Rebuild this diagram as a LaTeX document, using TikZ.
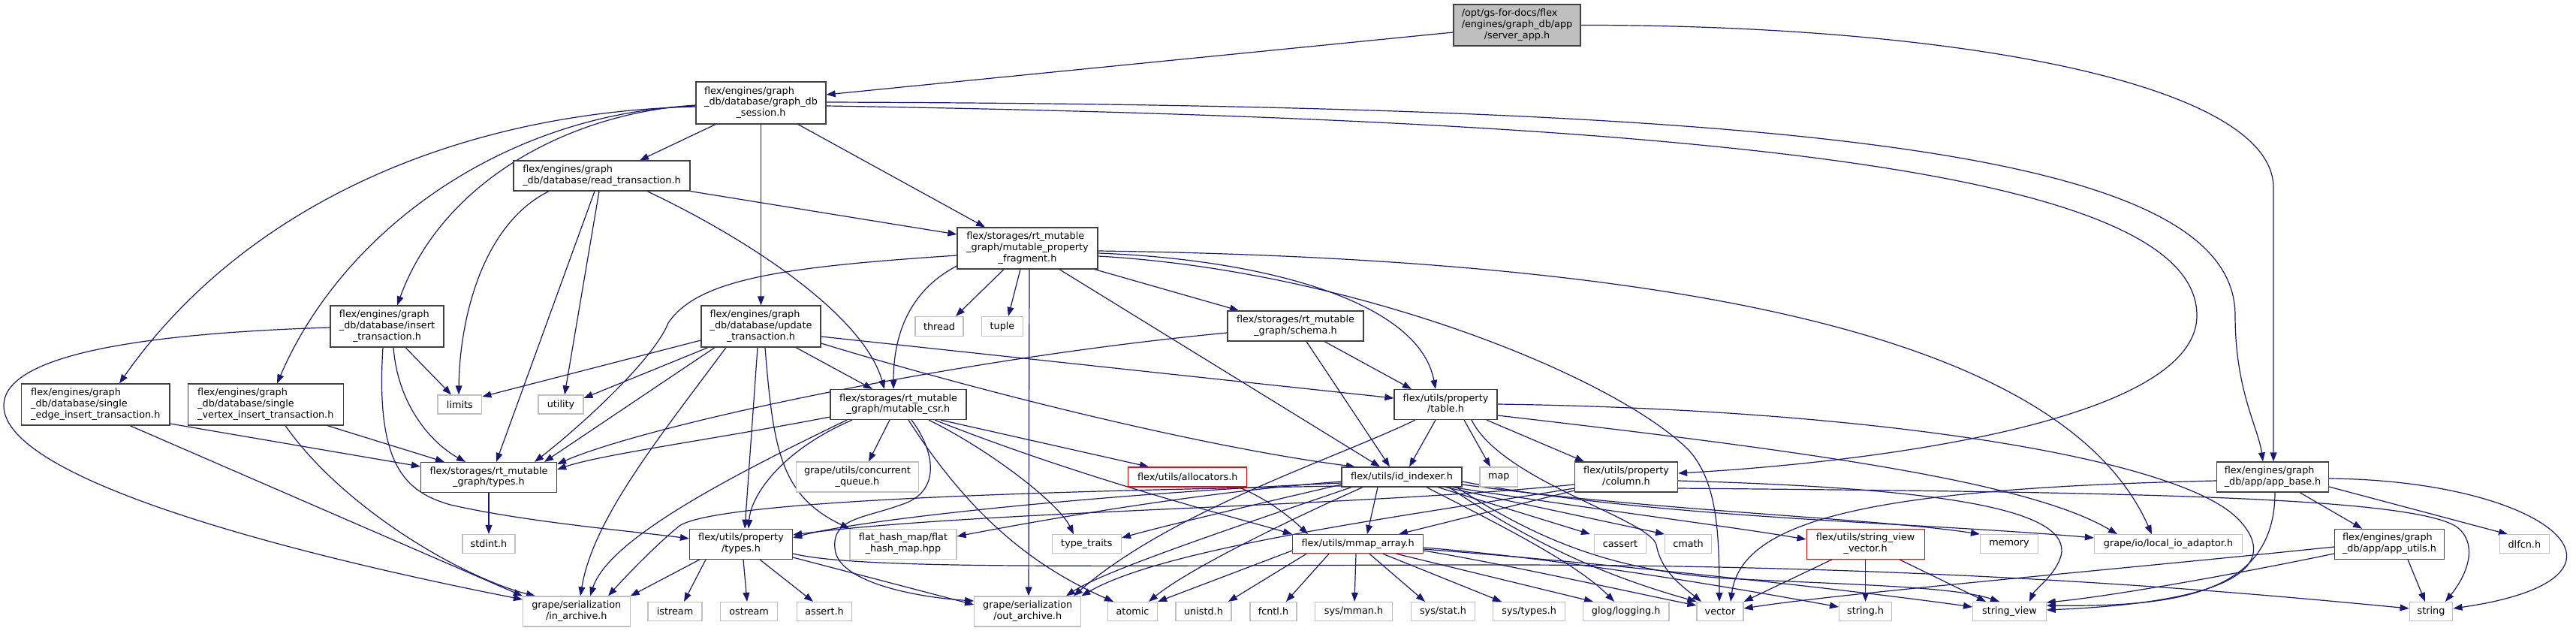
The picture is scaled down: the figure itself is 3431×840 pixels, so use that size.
\documentclass[tikz,border=0pt]{standalone}
\usepackage{fontspec}
\setmainfont{DejaVu Sans}
\usetikzlibrary{arrows.meta}
\pgfdeclarelayer{bg}
\pgfsetlayers{bg,main}
\definecolor{edgec}{HTML}{191970}
\definecolor{bordc}{HTML}{404040}
\definecolor{greyc}{HTML}{BFBFBF}
\newcommand{\lbfont}{\fontsize{6.4pt}{7.35pt}\selectfont}
\newcommand{\lblii}[2]{\begin{tabular}{@{}l@{}}#1\\\multicolumn{1}{@{}c@{}}{#2}\end{tabular}}
\newcommand{\lbliii}[3]{\begin{tabular}{@{}l@{}}#1\\#2\\\multicolumn{1}{@{}c@{}}{#3}\end{tabular}}
\begin{document}
\begin{tikzpicture}[x=0.5pt,y=-0.5pt,
 box/.style={draw=bordc, fill=white, line width=0.6pt, inner sep=0pt, font=\lbfont, text=black},
 extbox/.style={box, draw=greyc},
 redbox/.style={box, draw=red},
 rootbox/.style={box, fill=greyc},
 sz/.style 2 args={minimum width=#1*0.5pt, minimum height=#2*0.5pt},
 dep/.style={draw=edgec, line width=0.6pt, -{Triangle[length=6pt,width=4.4pt]}}]
\useasboundingbox (0,0) rectangle (3431,840);
% nodes
\node[rootbox, sz={169}{55}] (root) at (2020.5,33.5) {\lbliii{/opt/gs-for-docs/flex}{/engines/graph\_db/app}{/server\_app.h}};
\node[box, sz={173}{56}] (session) at (1013.5,137) {\lbliii{flex/engines/graph}{\_db/database/graph\_db}{\_session.h}};
\node[box, sz={235}{40}] (read) at (801.5,234) {\lblii{flex/engines/graph}{\_db/database/read\_transaction.h}};
\node[box, sz={187}{55}] (mpf) at (1368.5,330.5) {\lbliii{flex/storages/rt\_mutable}{\_graph/mutable\_property}{\_fragment.h}};
\node[box, sz={151}{55}] (insert) at (515.5,434.5) {\lbliii{flex/engines/graph}{\_db/database/insert}{\_transaction.h}};
\node[box, sz={159}{55}] (update) at (1013.5,434.5) {\lbliii{flex/engines/graph}{\_db/database/update}{\_transaction.h}};
\node[box, sz={181}{40}] (schema) at (1725.5,434) {\lblii{flex/storages/rt\_mutable}{\_graph/schema.h}};
\node[extbox, sz={64}{26}] (thread) at (1251,434.5) {thread};
\node[extbox, sz={55}{26}] (tuple) at (1335,434.5) {tuple};
\node[box, sz={197.5}{55}] (sedge) at (127.3,538.5) {\lbliii{flex/engines/graph}{\_db/database/single}{\_edge\_insert\_transaction.h}};
\node[box, sz={207}{55}] (svert) at (353.8,538.5) {\lbliii{flex/engines/graph}{\_db/database/single}{\_vertex\_insert\_transaction.h}};
\node[extbox, sz={58.7}{25}] (limits) at (612.4,538.5) {limits};
\node[extbox, sz={60}{25}] (utility) at (747,538.5) {utility};
\node[box, sz={181}{40}] (csr) at (1196.5,538.5) {\lblii{flex/storages/rt\_mutable}{\_graph/mutable\_csr.h}};
\node[box, sz={137}{40}] (table) at (1925.5,538.5) {\lblii{flex/utils/property}{/table.h}};
\node[box, sz={181}{40}] (rttypes) at (651,635.5) {\lblii{flex/storages/rt\_mutable}{\_graph/types.h}};
\node[extbox, sz={163.6}{40}] (cqueue) at (1142,635) {\lblii{grape/utils/concurrent}{\_queue.h}};
\node[redbox, sz={158}{26}] (alloc) at (1581.8,635) {flex/utils/allocators.h};
\node[box, sz={160}{26}] (idx) at (1867,635) {flex/utils/id\_indexer.h};
\node[extbox, sz={50.5}{26}] (map) at (1996.3,635) {map};
\node[box, sz={137}{40}] (column) at (2166,635) {\lblii{flex/utils/property}{/column.h}};
\node[box, sz={149}{40}] (appbase) at (3027,635) {\lblii{flex/engines/graph}{\_db/app/app\_base.h}};
\node[extbox, sz={70}{25}] (stdint) at (651,724) {stdint.h};
\node[box, sz={137}{40}] (ptypes) at (987,724.3) {\lblii{flex/utils/property}{/types.h}};
\node[extbox, sz={142}{40}] (fhm) at (1203,724.3) {\lblii{flat\_hash\_map/flat}{\_hash\_map.hpp}};
\node[extbox, sz={92}{25}] (ttraits) at (1447.4,724.2) {type\_traits};
\node[redbox, sz={174}{25}] (mmap) at (1808.6,724.2) {flex/utils/mmap\_array.h};
\node[extbox, sz={69}{25}] (cassert) at (2158,724.2) {cassert};
\node[extbox, sz={62}{25}] (cmath) at (2248.5,724.2) {cmath};
\node[redbox, sz={157}{40}] (svv) at (2484.6,724.3) {\lblii{flex/utils/string\_view}{\_vector.h}};
\node[extbox, sz={77}{25}] (memory) at (2676,724.2) {memory};
\node[extbox, sz={197}{25}] (localio) at (2888,724.2) {grape/io/local\_io\_adaptor.h};
\node[box, sz={146}{40}] (apputils) at (3182.5,724.3) {\lblii{flex/engines/graph}{\_db/app/app\_utils.h}};
\node[extbox, sz={66}{25}] (dlfcn) at (3362.3,724.3) {dlfcn.h};
\node[extbox, sz={142.6}{40}] (inarch) at (767.8,814) {\lblii{grape/serialization}{/in\_archive.h}};
\node[extbox, sz={72}{25}] (istream) at (899,814) {istream};
\node[extbox, sz={75.7}{25}] (ostream) at (997.6,814) {ostream};
\node[extbox, sz={73.5}{25}] (asserth) at (1098,814) {assert.h};
\node[extbox, sz={142}{40}] (outarch) at (1368.7,814) {\lblii{grape/serialization}{/out\_archive.h}};
\node[extbox, sz={66}{25}] (atomic) at (1508.5,814) {atomic};
\node[extbox, sz={74}{25}] (unistd) at (1603,814) {unistd.h};
\node[extbox, sz={62}{25}] (fcntl) at (1696,814) {fcntl.h};
\node[extbox, sz={102.6}{25}] (sysmman) at (1803,814) {sys/mman.h};
\node[extbox, sz={85}{25}] (sysstat) at (1922,814) {sys/stat.h};
\node[extbox, sz={96}{25}] (systypes) at (2036.7,814) {sys/types.h};
\node[extbox, sz={114.6}{25}] (glog) at (2165.7,814) {glog/logging.h};
\node[extbox, sz={62}{25}] (vector) at (2291,814) {vector};
\node[extbox, sz={70}{25}] (stringh) at (2484.6,814) {string.h};
\node[extbox, sz={97.6}{25}] (strview) at (2676.4,814) {string\_view};
\node[extbox, sz={57.7}{25}] (string) at (3238,814) {string};
\begin{pgfonlayer}{bg}
\fill[white] (0,0) rectangle (3431,840);
% root
\draw[dep] (root.west |- 0,43) -- (session.east |- 0,126);
\draw[dep] (root.east) .. controls (2600,33) and (3028,110) .. (3028,250) -- (appbase.north -| 3028,0);
% session
\draw[dep] (session.south -| 953,0) -- (read.north -| 852,0);
\draw[dep] (session.south -| 1063,0) -- (mpf.north -| 1312,0);
\draw[dep] (session.south) -- (update.north);
\draw[dep] (session.west |- 0,140) .. controls (760,150) and (590,240) .. (insert.north -| 529,0);
\draw[dep] (session.west |- 0,141) .. controls (680,150) and (460,300) .. (svert.north -| 369,0);
\draw[dep] (session.west |- 0,142) .. controls (600,150) and (320,280) .. (sedge.north -| 159,0);
\draw[dep] (session.east |- 0,136) .. controls (2400,140) and (2977,200) .. (2977,420) .. controls (2977,520) and (3008,570) .. (appbase.north -| 3014,0);
\draw[dep] (session.east |- 0,141) .. controls (2300,160) and (2926,230) .. (2926,420) .. controls (2926,560) and (2500,615) .. (column.east |- 0,630);
% mpf
\draw[dep] (mpf.south -| 1337,0) -- (thread.north -| 1273,0);
\draw[dep] (mpf.south -| 1359,0) -- (tuple.north -| 1343,0);
\draw[dep] (mpf.west |- 0,354) .. controls (1215,385) and (1190,440) .. (csr.north -| 1190,0);
\draw[dep] (mpf.west |- 0,340) .. controls (1050,355) and (930,370) .. (890,430) .. controls (870,480) and (770,570) .. (rttypes.north -| 712,0);
\draw[dep] (mpf.south -| 1371,0) -- (outarch.north -| 1370,0);
\draw[dep] (mpf.south -| 1411,0) -- (idx.north -| 1838,0);
\draw[dep] (mpf.south -| 1458,0) -- (schema.north -| 1650,0);
\draw[dep] (mpf.east |- 0,337) .. controls (1680,345) and (1890,400) .. (table.north -| 1912,0);
\draw[dep] (mpf.east |- 0,341) .. controls (1800,360) and (2150,500) .. (2250,600) .. controls (2285,640) and (2290,700) .. (vector.north -| 2290,0);
\draw[dep] (mpf.east |- 0,334) .. controls (2250,345) and (2750,450) .. (localio.north -| 2866,0);
% read
\draw[dep] (read.south east) -- (mpf.west |- 0,312);
\draw[dep] (read.south -| 862,0) .. controls (1000,320) and (1150,420) .. (csr.north -| 1178,0);
\draw[dep] (read.south -| 731,0) .. controls (640,300) and (612,430) .. (limits.north -| 611,0);
\draw[dep] (read.south -| 798,0) -- (utility.north -| 752,0);
\draw[dep] (read.south -| 792,0) -- (rttypes.north -| 661,0);
% insert
\draw[dep] (insert.west |- 0,436) .. controls (150,445) and (5,480) .. (5,540) .. controls (5,640) and (400,740) .. (inarch.west |- 0,798);
\draw[dep] (insert.south -| 540,0) -- (limits.north -| 601,0);
\draw[dep] (insert.south -| 524,0) .. controls (530,540) and (575,590) .. (rttypes.north -| 620,0);
\draw[dep] (insert.south -| 510,0) .. controls (500,620) and (540,655) .. (600,672) .. controls (700,695) and (850,708) .. (ptypes.west |- 0,717);
% single edge / vertex
\draw[dep] (sedge.east |- 0,564) -- (rttypes.west |- 0,621);
\draw[dep] (sedge.south -| 173,0) -- (inarch.north west);
\draw[dep] (svert.south -| 436,0) -- (rttypes.north -| 592,0);
\draw[dep] (svert.south -| 380,0) .. controls (460,680) and (620,770) .. (inarch.north -| 713,0);
% update
\draw[dep] (update.south -| 1060,0) -- (csr.north -| 1162,0);
\draw[dep] (update.west |- 0,453) -- (limits.east |- 0,528);
\draw[dep] (update.south -| 943,0) -- (utility.east |- 0,530);
\draw[dep] (update.south -| 952,0) -- (rttypes.north -| 725,0);
\draw[dep] (update.south -| 1009,0) -- (ptypes.north -| 992,0);
\draw[dep] (update.south -| 1019,0) .. controls (1030,600) and (1040,660) .. (fhm.north west);
\draw[dep] (update.south -| 967,0) .. controls (880,580) and (790,690) .. (inarch.north -| 773,0);
\draw[dep] (update.east |- 0,448) -- (table.west |- 0,530);
\draw[dep] (update.east |- 0,457) .. controls (1300,520) and (1600,595) .. (idx.north -| 1805,0);
% schema
\draw[dep] (schema.south -| 1764,0) -- (table.north -| 1880,0);
\draw[dep] (schema.south -| 1740,0) -- (idx.north -| 1851,0);
\draw[dep] (schema.west |- 0,443) .. controls (1250,480) and (850,570) .. (rttypes.east |- 0,618);
% csr
\draw[dep] (csr.south -| 1185,0) -- (cqueue.north -| 1157,0);
\draw[dep] (csr.south -| 1253,0) -- (alloc.north -| 1530,0);
\draw[dep] (csr.south -| 1135,0) .. controls (1040,600) and (1000,660) .. (ptypes.north -| 997,0);
\draw[dep] (csr.west |- 0,555) .. controls (950,585) and (800,605) .. (rttypes.east |- 0,625);
\draw[dep] (csr.south -| 1128,0) .. controls (960,640) and (810,720) .. (inarch.north -| 786,0);
\draw[dep] (csr.south -| 1214,0) .. controls (1245,600) and (1255,655) .. (1200,672) .. controls (1150,690) and (1108,690) .. (1112,730) .. controls (1115,775) and (1220,795) .. (outarch.west |- 0,800);
\draw[dep] (csr.south -| 1237,0) .. controls (1320,600) and (1410,670) .. (ttraits.north -| 1430,0);
\draw[dep] (csr.south -| 1210,0) .. controls (1300,700) and (1390,760) .. (atomic.north -| 1483,0);
\draw[dep] (csr.south -| 1245,0) .. controls (1450,640) and (1650,690) .. (mmap.north west);
% alloc
\draw[dep] (alloc.south -| 1650,0) .. controls (1690,665) and (1720,690) .. (mmap.north -| 1742,0);
% id_indexer
\draw[dep] (idx.south -| 1835,0) -- (mmap.north -| 1821,0);
\draw[dep] (idx.south -| 1915,0) -- (cassert.north -| 2118,0);
\draw[dep] (idx.south -| 1925,0) -- (cmath.north -| 2217,0);
\draw[dep] (idx.south -| 1935,0) .. controls (2100,675) and (2300,700) .. (svv.west |- 0,718);
\draw[dep] (idx.east |- 0,645) .. controls (2200,680) and (2500,690) .. (memory.north west);
\draw[dep] (idx.east |- 0,641) .. controls (2200,690) and (2550,695) .. (localio.west |- 0,716);
\draw[dep] (idx.south -| 1940,0) .. controls (2050,720) and (2150,760) .. (2300,770) .. controls (2450,778) and (2600,780) .. (strview.north -| 2663,0);
\draw[dep] (idx.south -| 1900,0) .. controls (2000,700) and (2100,750) .. (glog.north -| 2150,0);
\draw[dep] (idx.south -| 1930,0) .. controls (2050,730) and (2150,770) .. (vector.north west);
\draw[dep] (idx.west |- 0,645) .. controls (1700,665) and (1550,700) .. (ttraits.east |- 0,716);
\draw[dep] (idx.west |- 0,641) .. controls (1600,655) and (1400,690) .. (fhm.east |- 0,714);
\draw[dep] (idx.west |- 0,643) .. controls (1500,655) and (1150,690) .. (ptypes.east |- 0,716);
\draw[dep] (idx.south -| 1800,0) .. controls (1650,700) and (1470,760) .. (outarch.north -| 1420,0);
\draw[dep] (idx.west |- 0,647) .. controls (1300,655) and (950,670) .. (905,700) .. controls (880,720) and (840,760) .. (inarch.north -| 810,0);
\draw[dep] (idx.south -| 1815,0) .. controls (1700,700) and (1580,760) .. (atomic.north -| 1530,0);
% table
\draw[dep] (table.south -| 1912,0) -- (idx.north -| 1877,0);
\draw[dep] (table.south -| 1950,0) -- (map.north -| 1985,0);
\draw[dep] (table.south -| 1980,0) -- (column.north -| 2110,0);
\draw[dep] (table.south -| 1960,0) .. controls (2000,640) and (2195,690) .. (2206,725) .. controls (2212,760) and (2240,780) .. (vector.north -| 2266,0);
\draw[dep] (table.south -| 1885,0) .. controls (1780,610) and (1560,680) .. (outarch.north -| 1430,0);
\draw[dep] (table.east |- 0,538) .. controls (2500,545) and (2900,610) .. (2980,690) .. controls (3030,740) and (3010,800) .. (strview.east |- 0,812);
\draw[dep] (table.east |- 0,553) .. controls (2400,600) and (2700,640) .. (localio.north -| 2820,0);
% column
\draw[dep] (column.west |- 0,653) -- (mmap.north -| 1863,0);
\draw[dep] (column.west |- 0,645) .. controls (1800,675) and (1300,680) .. (ptypes.east |- 0,712);
\draw[dep] (column.west |- 0,650) .. controls (1850,690) and (1550,730) .. (outarch.north east);
\draw[dep] (column.east |- 0,650) .. controls (2800,655) and (3200,660) .. (3270,700) .. controls (3300,720) and (3290,760) .. (string.north -| 3257,0);
\draw[dep] (column.east |- 0,640) .. controls (2600,650) and (2760,680) .. (2745,740) .. controls (2738,765) and (2710,785) .. (strview.north -| 2703,0);
% mmap_array
\draw[dep] (mmap.west |- 0,733) -- (atomic.north east);
\draw[dep] (mmap.south -| 1740,0) -- (unistd.north -| 1636,0);
\draw[dep] (mmap.south -| 1770,0) -- (fcntl.north -| 1713,0);
\draw[dep] (mmap.south -| 1806,0) -- (sysmman.north -| 1804,0);
\draw[dep] (mmap.south -| 1824,0) -- (sysstat.north -| 1898,0);
\draw[dep] (mmap.south -| 1842,0) -- (systypes.north -| 2000,0);
\draw[dep] (mmap.south -| 1860,0) -- (glog.north -| 2122,0);
\draw[dep] (mmap.east |- 0,733) .. controls (2000,750) and (2180,790) .. (vector.west |- 0,806);
\draw[dep] (mmap.east |- 0,729) .. controls (2100,745) and (2350,790) .. (stringh.west |- 0,808);
\draw[dep] (mmap.east |- 0,731) .. controls (2200,755) and (2500,790) .. (strview.west |- 0,808);
% string_view_vector
\draw[dep] (svv.south -| 2440,0) -- (vector.north east);
\draw[dep] (svv.south) -- (stringh.north);
\draw[dep] (svv.south -| 2530,0) -- (strview.north -| 2645,0);
% app_base
\draw[dep] (appbase.south -| 3063,0) -- (apputils.north -| 3146,0);
\draw[dep] (appbase.east |- 0,648) -- (dlfcn.north -| 3340,0);
\draw[dep] (appbase.east |- 0,637) .. controls (3400,640) and (3545,770) .. (string.east |- 0,810);
\draw[dep] (appbase.south -| 3030,0) .. controls (3030,790) and (2900,808) .. (strview.east |- 0,806);
\draw[dep] (appbase.west |- 0,640) .. controls (2500,650) and (2320,690) .. (vector.north -| 2305,0);
% app_utils
\draw[dep] (apputils.south -| 3207,0) -- (string.north -| 3230,0);
\draw[dep] (apputils.west |- 0,737) .. controls (2950,770) and (2800,795) .. (strview.east |- 0,802);
\draw[dep] (apputils.west |- 0,728) .. controls (2800,760) and (2450,790) .. (vector.east |- 0,810);
% property/types
\draw[dep] (ptypes.south -| 940,0) -- (istream.north -| 911,0);
\draw[dep] (ptypes.south -| 990,0) -- (ostream.north -| 995,0);
\draw[dep] (ptypes.south -| 1012,0) -- (asserth.north -| 1083,0);
\draw[dep] (ptypes.east |- 0,742) -- (outarch.west |- 0,805);
\draw[dep] (ptypes.south -| 932,0) -- (inarch.north east);
\draw[dep] (ptypes.east |- 0,737) .. controls (1150,760) and (1500,752) .. (2000,752) .. controls (2600,752) and (3000,790) .. (string.west |- 0,810);
% rt types
\draw[dep] (rttypes.south) -- (stdint.north);
\end{pgfonlayer}
\end{tikzpicture}
\end{document}
